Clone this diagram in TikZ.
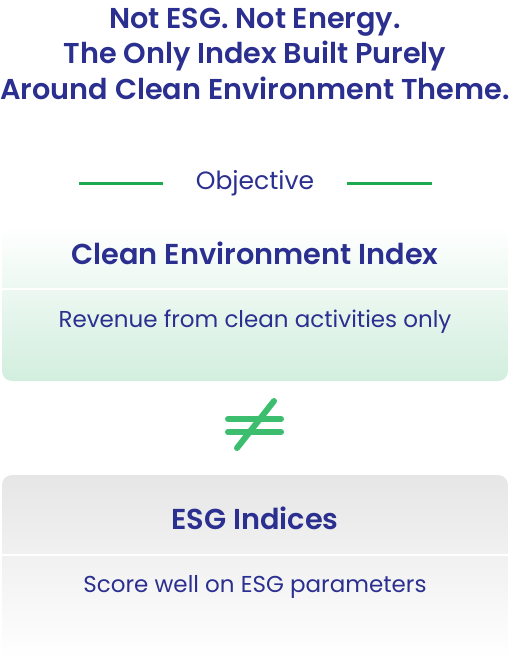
\documentclass[tikz,border=0pt]{standalone}
\usepackage{fontspec}
\setmainfont{Poppins}[BoldFont={Poppins SemiBold}]
\definecolor{ink}{HTML}{2B2F8F}
\definecolor{lgreen}{HTML}{1EAA50}
\definecolor{neq}{HTML}{3DBE6E}
\definecolor{boxg}{HTML}{D2EEDE}
\definecolor{boxgr}{HTML}{E6E6E6}
\begin{document}
\begin{tikzpicture}[x=1pt,y=-1pt,
  headline/.style={anchor=base,text=ink,font=\fontsize{28.7}{35}\selectfont\bfseries},
  boxtitle/.style={anchor=base,text=ink,font=\fontsize{28.8}{35}\selectfont\bfseries},
  boxsub/.style={anchor=base,text=ink,font=\fontsize{23}{28}\selectfont},
  objtext/.style={anchor=base,text=ink,font=\fontsize{25}{28}\selectfont},
  greenrule/.style={draw=lgreen,line width=3pt},
  divider/.style={draw=white,line width=1.5pt},
  neqbar/.style={draw=neq,line width=6pt,line cap=round}]
\useasboundingbox (0,0) rectangle (510,665);
\fill[white] (0,0) rectangle (510,665);
% headline
\node[headline] (h1) at (255,28) {Not ESG. Not Energy.};
\node[headline] (h2) at (255,63) {The Only Index Built Purely};
\node[headline] (h3) at (255,99) {Around Clean Environment Theme.};
% objective
\node[objtext] (obj) at (255,189) {Objective};
\coordinate (l1a) at (79,183); \coordinate (l1b) at (163,183);
\coordinate (l2a) at (347,183); \coordinate (l2b) at (432,183);
\draw[greenrule] (l1a) -- (l1b);
\draw[greenrule] (l2a) -- (l2b);
% box 1
\shade[top color=white,bottom color=boxg,rounded corners=10pt] (2,225) rectangle (508,381);
\coordinate (d1a) at (2,289); \coordinate (d1b) at (508,289);
\draw[divider] (d1a) -- (d1b);
\node[boxtitle] (t1) at (255,264) {Clean Environment Index};
\node[boxsub] (s1) at (255,327) {Revenue from clean activities only};
% not equal
\coordinate (b1a) at (228,419); \coordinate (b1b) at (281,419);
\coordinate (b2a) at (228,432); \coordinate (b2b) at (281,432);
\coordinate (sa) at (237,448); \coordinate (sb) at (274,401);
\draw[neqbar] (b1a) -- (b1b);
\draw[neqbar] (b2a) -- (b2b);
\draw[neqbar] (sa) -- (sb);
% box 2
\shade[top color=boxgr,bottom color=white,rounded corners=10pt] (2,475) rectangle (508,660);
\coordinate (d2a) at (2,555); \coordinate (d2b) at (508,555);
\draw[divider] (d2a) -- (d2b);
\node[boxtitle] (t2) at (255,529) {ESG Indices};
\node[boxsub] (s2) at (255,592) {Score well on ESG parameters};
\end{tikzpicture}
\end{document}
